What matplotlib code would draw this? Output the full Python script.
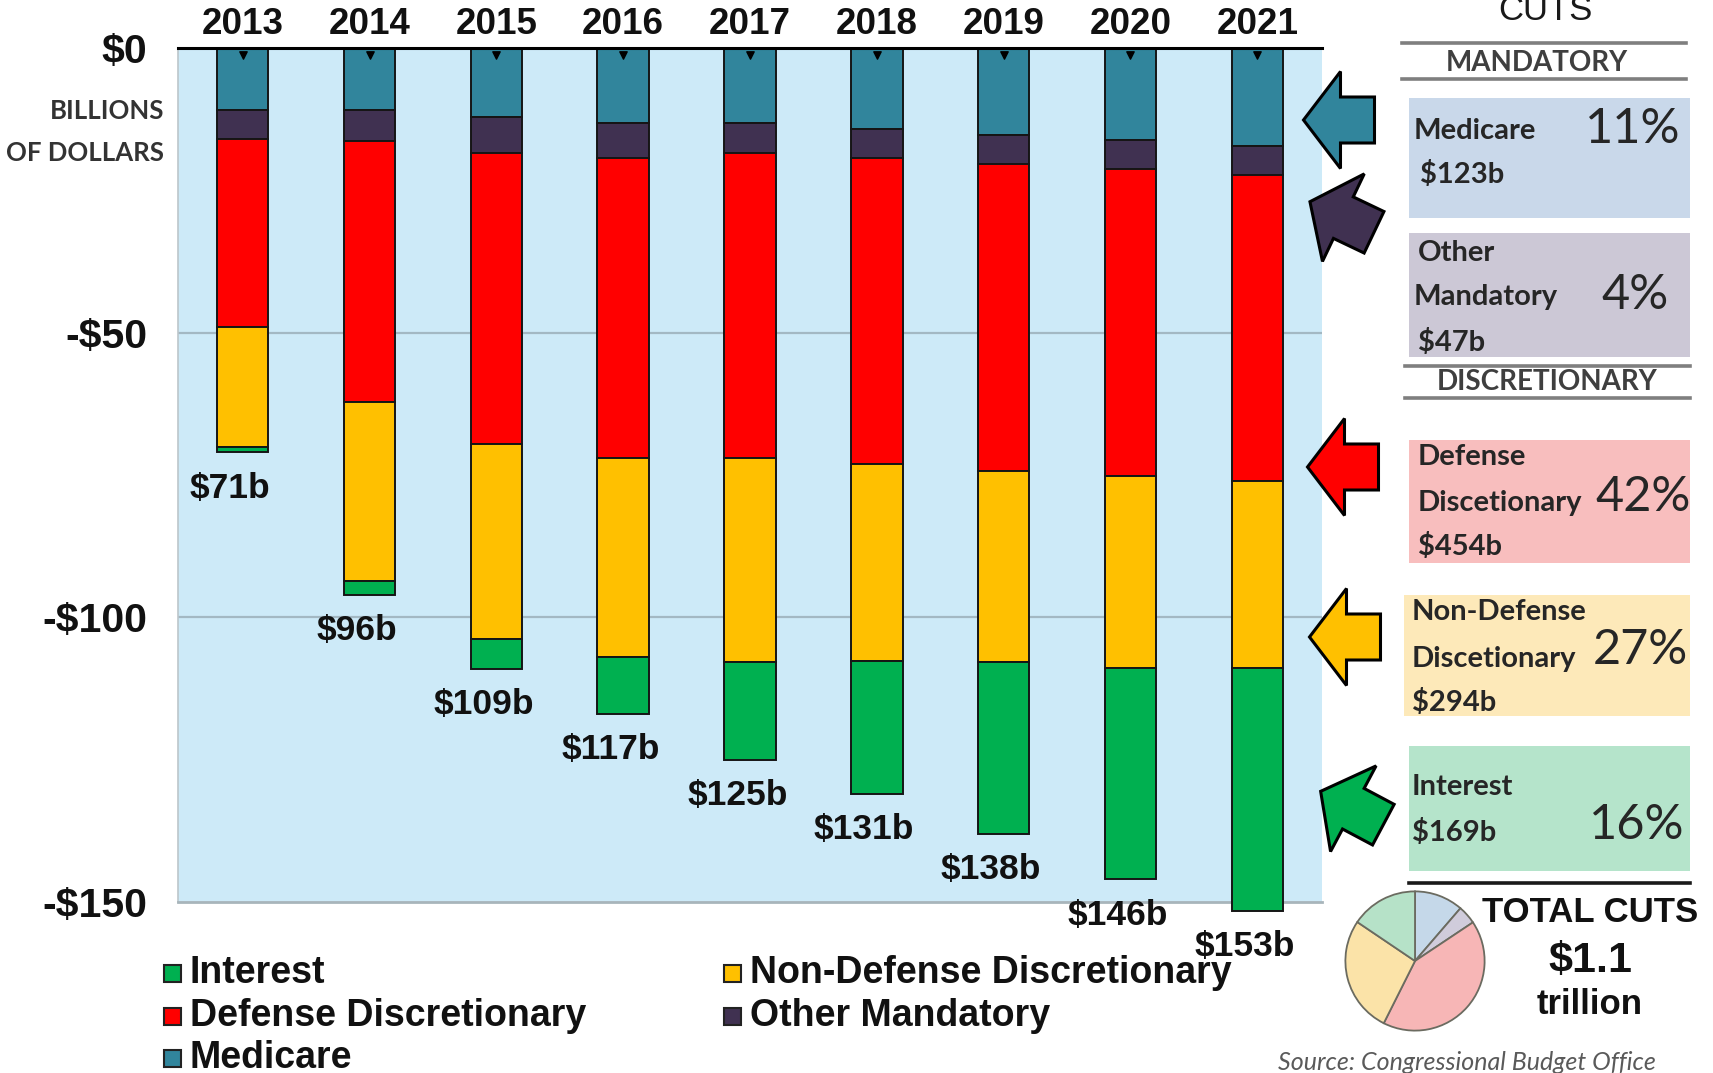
import numpy as np
import matplotlib.pyplot as plt
from matplotlib.patches import Rectangle, Polygon
from matplotlib.lines import Line2D

# ---- data (billions of dollars, cuts per year) ----
years = ['2013', '2014', '2015', '2016', '2017', '2018', '2019', '2020', '2021']
medicare = [10.9, 10.9, 12.1, 13.1, 13.1, 14.2, 15.2, 16.2, 17.3]
other_mand = [5.1, 5.4, 6.3, 6.2, 5.3, 5.1, 5.2, 5.1, 5.0]
defense = [33.0, 45.9, 51.1, 52.8, 53.7, 53.8, 53.9, 53.8, 53.7]
nondefense = [21.0, 31.5, 34.3, 34.8, 35.8, 34.6, 33.5, 33.8, 32.9]
interest = [1.0, 2.3, 5.2, 10.1, 17.1, 23.3, 30.2, 37.1, 42.6]
totals = [71, 96, 109, 117, 125, 131, 138, 146, 153]

series_names = ['Medicare', 'Other Mandatory', 'Defense Discretionary',
                'Non-Defense Discretionary', 'Interest']
series_vals = [medicare, other_mand, defense, nondefense, interest]
series_cols = ['#31859C', '#403151', '#FF0000', '#FFC000', '#00B050']

# summary panel
panel_totals = [123, 47, 454, 294, 169]
panel_pct = [11, 4, 42, 27, 16]
pie_cols = ['#C5D8E9', '#D0CCDB', '#F7B6B6', '#FBE3A8', '#B6E2C8']

yticks = [0, -50, -100, -150]
ytick_labels = ['$0', '-$50', '-$100', '-$150']

ARIAL = ['Liberation Sans', 'DejaVu Sans']
CAL = ['Lato', 'DejaVu Sans']

W, H = 1713, 1073
fig = plt.figure(figsize=(W / 100, H / 100), dpi=100)
fig.patch.set_facecolor('white')


def fx(x):
    return x / W


def fy(y):
    return 1 - y / H


# ---- main bar chart ----
ax = fig.add_axes([fx(178), fy(902), fx(1322) - fx(178), fy(48) - fy(902)])
ax.set_facecolor('#CDEAF8')
x = np.arange(len(years))

cum = np.zeros(len(years))
for name, vals, col in zip(series_names, series_vals, series_cols):
    vals = np.array(vals)
    ax.bar(x, -vals, bottom=-cum, width=0.405, color=col,
           edgecolor='#151515', linewidth=1.4, zorder=3, clip_on=False)
    cum += vals

ax.scatter(x, np.full(len(x), -1.3), marker='v', s=28, color='black', zorder=5)

for xi, bottom, tot in zip(x, cum, totals):
    ax.text(xi - 0.1, -bottom - 6.3, f'${tot}b', ha='center', va='center',
            fontsize=25.5, fontweight='bold', family=ARIAL, color='#111111',
            clip_on=False, zorder=6)

ax.set_xlim(-0.51, len(years) - 0.49)
ax.set_ylim(-150, 0)

for g in [-50, -100]:
    ax.axhline(g, color='#A3B8C3', lw=1.6, zorder=1)

ax.xaxis.tick_top()
ax.set_xticks(x, years)
ax.tick_params(axis='x', length=0, pad=4)
for lab in ax.get_xticklabels():
    lab.set_fontsize(26.5)
    lab.set_fontweight('bold')
    lab.set_family(ARIAL)
    lab.set_color('#111111')

ax.set_yticks(yticks, ytick_labels)
ax.tick_params(axis='y', length=0, pad=22)
for lab in ax.get_yticklabels():
    lab.set_fontsize(29.5)
    lab.set_fontweight('bold')
    lab.set_family(ARIAL)
    lab.set_color('#111111')

ax.spines['top'].set_color('black')
ax.spines['top'].set_linewidth(2.2)
ax.spines['top'].set_zorder(6)
ax.spines['right'].set_visible(False)
ax.spines['left'].set_color('#BCC6CB')
ax.spines['left'].set_linewidth(1.2)
ax.spines['bottom'].set_color('#A8B5BB')
ax.spines['bottom'].set_linewidth(2.0)

fig.text(fx(164), fy(111), 'BILLIONS', ha='right', va='center', fontsize=18.5,
         fontweight='bold', family=CAL, color='#333333')
fig.text(fx(164), fy(153), 'OF DOLLARS', ha='right', va='center', fontsize=18.5,
         fontweight='bold', family=CAL, color='#333333')

# ---- legend (manual layout) ----
legend_order = [4, 2, 0, 3, 1]
legend_pos = [(164, 973), (164, 1016), (164, 1058), (724, 973), (724, 1016)]
for idx, (lx, ly) in zip(legend_order, legend_pos):
    fig.add_artist(Rectangle((fx(lx), fy(ly + 9)), 17 / W, 17 / H,
                             transform=fig.transFigure, facecolor=series_cols[idx],
                             edgecolor='#222222', lw=1.5))
    fig.text(fx(lx + 26), fy(ly), series_names[idx], ha='left', va='center',
             fontsize=27, fontweight='bold', family=ARIAL, color='#111111')

# ---- arrows ----
def block_arrow(cx, cy, ang, col):
    L, hl, hw, sw = 71, 37, 97, 46
    pts = np.array([[-L / 2, 0], [-L / 2 + hl, -hw / 2], [-L / 2 + hl, -sw / 2],
                    [L / 2, -sw / 2], [L / 2, sw / 2], [-L / 2 + hl, sw / 2],
                    [-L / 2 + hl, hw / 2]])
    a = np.deg2rad(ang)
    rot = np.array([[np.cos(a), -np.sin(a)], [np.sin(a), np.cos(a)]])
    p = pts @ rot.T + [cx, cy]
    fpts = [(fx(px_), fy(py_)) for px_, py_ in p]
    fig.add_artist(Polygon(fpts, closed=True, transform=fig.transFigure,
                           facecolor=col, edgecolor='black', lw=2.2, joinstyle='miter'))


arrow_specs = [(1339, 120, 0, series_cols[0]), (1342, 217, 25.5, series_cols[1]),
               (1343, 467, 0, series_cols[2]), (1345, 637, 0, series_cols[3]),
               (1352, 808, 28, series_cols[4])]
for spec in arrow_specs:
    block_arrow(*spec)

# ---- right summary panel ----
def hline(y, x0, x1, col, lw):
    fig.add_artist(Line2D([fx(x0), fx(x1)], [fy(y), fy(y)], transform=fig.transFigure,
                          color=col, lw=lw))


fig.text(fx(1545), fy(20), 'CUTS', ha='center', va='baseline', fontsize=25,
         family=ARIAL, color='#1A1A1A')
hline(43, 1402, 1686, '#7F7F7F', 2.6)
fig.text(fx(1537), fy(63), 'MANDATORY', ha='center', va='center', fontsize=20,
         fontweight='bold', family=CAL, color='#3F3F3F')
hline(79, 1402, 1686, '#7F7F7F', 2.6)
hline(366, 1405, 1690, '#7F7F7F', 2.6)
fig.text(fx(1547), fy(382), 'DISCRETIONARY', ha='center', va='center', fontsize=20,
         fontweight='bold', family=CAL, color='#3F3F3F')
hline(398, 1405, 1690, '#7F7F7F', 2.6)
hline(883, 1409, 1690, '#1A1A1A', 2.6)

box_rects = [(1409, 98, 218), (1409, 233, 357), (1409, 440, 563),
             (1404, 595, 716), (1409, 746, 871)]
box_cols = ['#C9D8EA', '#CCC8D6', '#F8BEBE', '#FDE9B9', '#B5E4CB']
box_lines = [['Medicare', '$123b'], ['Other', 'Mandatory', '$47b'],
             ['Defense', 'Discetionary', '$454b'], ['Non-Defense', 'Discetionary', '$294b'],
             ['Interest', '$169b']]
line_pos = [[(1414, 131), (1420, 175)],
            [(1418, 253), (1414, 297), (1418, 342)],
            [(1418, 457), (1418, 503), (1418, 546)],
            [(1412, 612), (1412, 659), (1412, 702)],
            [(1412, 787), (1412, 832)]]
pct_pos = [(1680, 129), (1669, 295), (1691, 497), (1688, 650), (1684, 825)]

for i in range(5):
    bx, by0, by1 = box_rects[i]
    fig.add_artist(Rectangle((fx(bx), fy(by1)), (1690 - bx) / W, (by1 - by0) / H,
                             transform=fig.transFigure, facecolor=box_cols[i],
                             edgecolor='none'))
    for txt, (tx, ty) in zip(box_lines[i], line_pos[i]):
        fig.text(fx(tx), fy(ty), txt, ha='left', va='center', fontsize=21,
                 fontweight='bold', family=CAL, color='#262626')
    px_, py_ = pct_pos[i]
    fig.text(fx(px_), fy(py_), f'{panel_pct[i]}%', ha='right', va='center',
             fontsize=35, family=CAL, color='#262626')

# pie of total cuts
pax = fig.add_axes([fx(1415 - 71), fy(961 + 71), 142 / W, 142 / H])
pax.pie(panel_totals, colors=pie_cols, startangle=90, counterclock=False,
        wedgeprops=dict(edgecolor='#6B6B60', linewidth=1.3))
pax.set_xlim(-1.02, 1.02)
pax.set_ylim(-1.02, 1.02)
pax.set_aspect('equal')
pax.axis('off')

fig.text(fx(1590), fy(912), 'TOTAL CUTS', ha='center', va='center', fontsize=25,
         fontweight='bold', family=ARIAL, color='#111111')
fig.text(fx(1590), fy(961), '$1.1', ha='center', va='center', fontsize=31,
         fontweight='bold', family=ARIAL, color='#111111')
fig.text(fx(1590), fy(1005), 'trillion', ha='center', va='center', fontsize=25,
         fontweight='bold', family=ARIAL, color='#111111')
fig.text(fx(1467), fy(1070), 'Source: Congressional Budget Office', ha='center',
         va='baseline', fontsize=18, style='italic', family=CAL, color='#5A5A5A')

fig.savefig('out.png', dpi=100)
